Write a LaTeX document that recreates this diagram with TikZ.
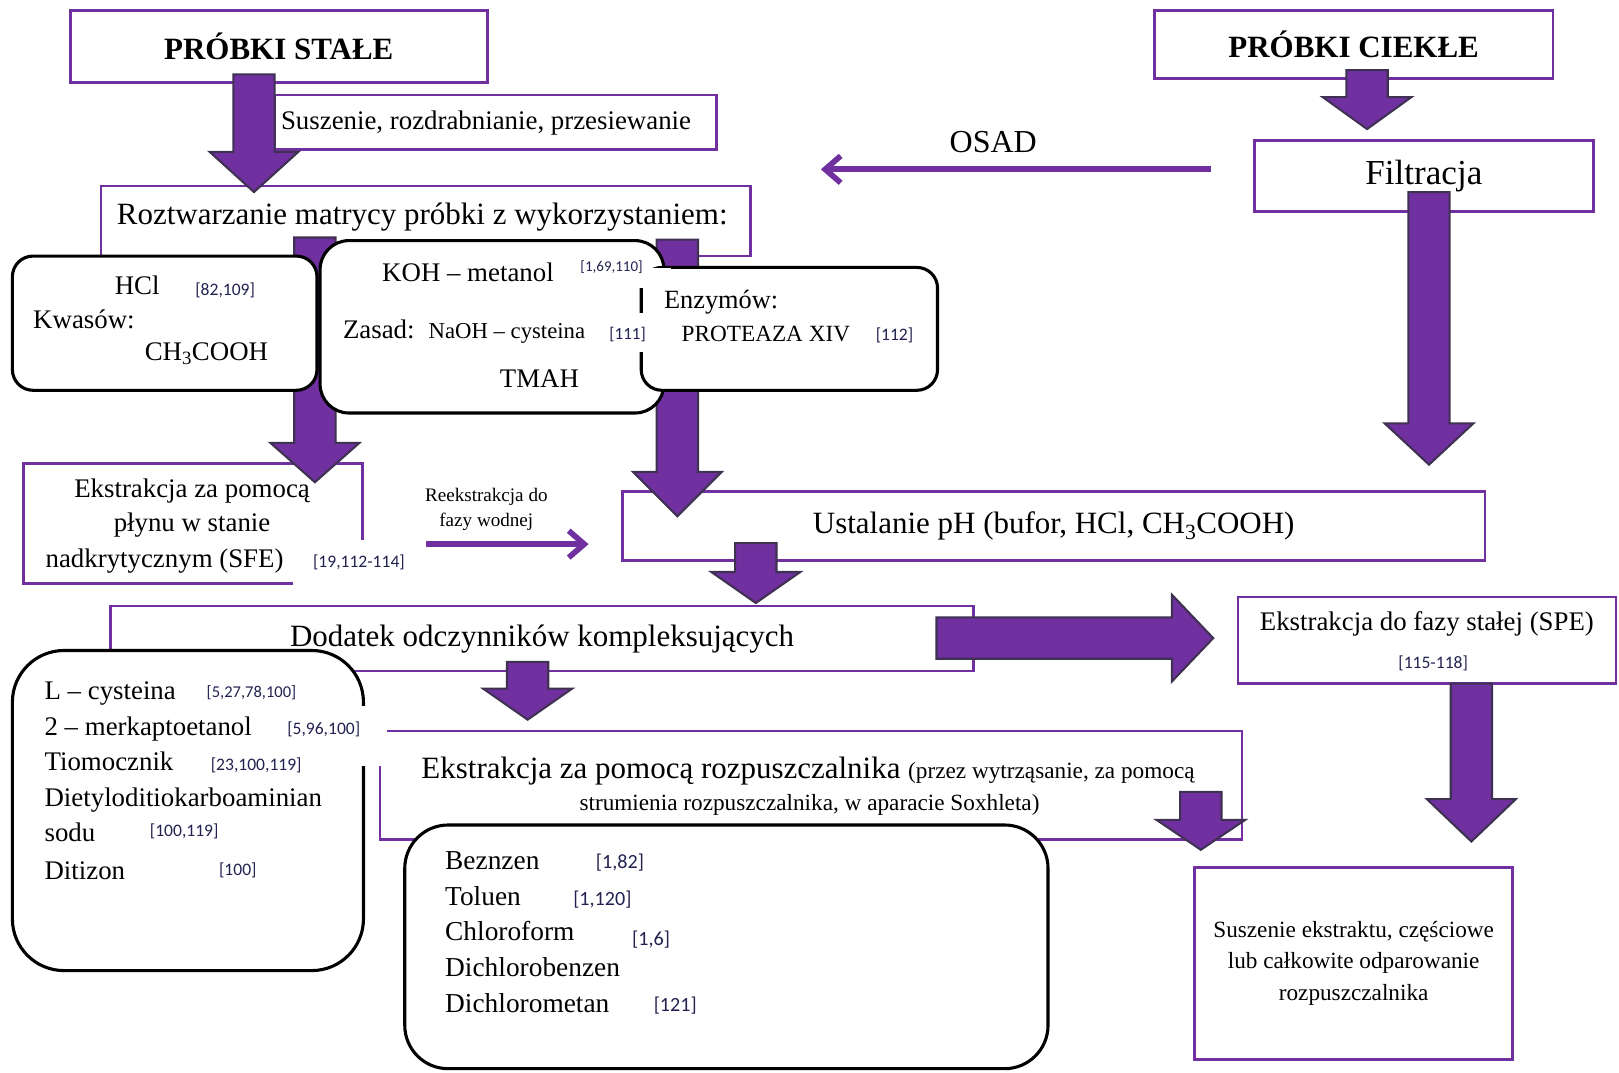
\documentclass[tikz,border=0pt]{standalone}
\usepackage{fontspec}
\setmainfont{Liberation Serif}
\newfontfamily\citef{Carlito}
\usetikzlibrary{calc,arrows.meta}
\definecolor{pur}{HTML}{7030A0}
\definecolor{arrdark}{HTML}{3F3151}
\definecolor{cit}{HTML}{222250}
\newcommand{\fsz}[1]{\fontsize{#1}{#1}\selectfont}
\newcommand{\blkdown}[3]{%
  \draw[blk] let \p1=(#1), \p2=(#2) in
    (\x1-20pt,\y1) -- (\x1+20pt,\y1) -- (\x1+20pt,\y2+#3pt) -- (\x1+43pt,\y2+#3pt)
    -- (\x2,\y2) -- (\x1-43pt,\y2+#3pt) -- (\x1-20pt,\y2+#3pt) -- cycle;}
\newcommand{\blkright}[3]{%
  \draw[blk] let \p1=(#1), \p2=(#2) in
    (\x1,\y1+20pt) -- (\x2-#3pt,\y1+20pt) -- (\x2-#3pt,\y1+42pt) -- (\x2,\y2)
    -- (\x2-#3pt,\y1-42pt) -- (\x2-#3pt,\y1-20pt) -- (\x1,\y1-20pt) -- cycle;}
\tikzset{
  pbox/.style={draw=pur, line width=2.5pt, fill=white, inner sep=0pt},
  pline/.style={draw=pur, line width=2.5pt},
  rbox/.style={draw=black, line width=3pt, fill=white, inner sep=0pt, rounded corners=#1},
  blk/.style={fill=pur, draw=arrdark, line width=2pt, line join=miter},
  larrow/.style={draw=pur, line width=5.5pt, -{Straight Barb[length=15pt,width=26pt]}},
  txt/.style={inner sep=0pt, anchor=base west},
  ctxt/.style={inner sep=0pt, anchor=base},
  cf/.style={inner sep=0pt, anchor=base west, font=\citef\fontsize{#1}{#1}\selectfont, text=cit},
}
\begin{document}
\begin{tikzpicture}[x=1pt,y=-1pt]
\useasboundingbox (0,0) rectangle (1568,1039);
\fill[white] (0,0) rectangle (1568,1039);

% ---- plain purple boxes ----
\node[pbox, minimum width=404, minimum height=70, font=\bfseries\fsz{30}] (stale) at (270,45) {PRÓBKI STAŁE};
\node[pbox, minimum width=428, minimum height=53] (susz) at (480,118.5) {};
\node[pbox, minimum width=629, minimum height=68] (roz) at (412.5,214) {};
\node[pbox, minimum width=386, minimum height=66, font=\bfseries\fsz{30}] (ciekle) at (1311,43) {PRÓBKI CIEKŁE};
\node[pbox, minimum width=328, minimum height=69, font=\fsz{34}] (filtr) at (1379,170.5) {Filtracja};
\node[inner sep=0pt, minimum width=328, minimum height=116] (sfe) at (187,507) {};
\draw[pline] (284,565) -- (23,565) -- (23,449) -- (351,449) -- (351,523);
\node[pbox, minimum width=835, minimum height=67, font=\fsz{30}] (ph) at (1020.5,509.5) {Ustalanie pH (bufor, HCl, CH\textsubscript{3}COOH)};
\node[pbox, minimum width=836, minimum height=63, font=\fsz{30}] (dod) at (525,618.5) {Dodatek odczynników kompleksujących};
\node[pbox, minimum width=366, minimum height=84] (spe) at (1382,620) {};
\node[pbox, minimum width=835, minimum height=105] (ekr) at (785.5,760.5) {};
\node[pbox, minimum width=308, minimum height=186, align=center, font={\fontsize{22.5}{30.5}\selectfont}] (susext) at (1311,933) {Suszenie ekstraktu, częściowe\\lub całkowite odparowanie\\rozpuszczalnika};

% ---- arrows behind the digestion boxes ----
\coordinate (a2s) at (305,230); \coordinate (a2e) at (305,467);
\coordinate (a3s) at (656,232); \coordinate (a3e) at (656,500);
\blkdown{a2s}{a2e}{38}
\blkdown{a3s}{a3e}{43}

% ---- rounded boxes (digestion) ----
\node[rbox=20, minimum width=295, minimum height=130] (hcl) at (159.5,313) {};
\node[rbox=28, minimum width=333, minimum height=167] (koh) at (476.5,316.5) {};
\node[rbox=20, minimum width=287, minimum height=119] (enz) at (764.5,318.5) {};
\fill[white] (613,260) rectangle (650,279);
\fill[white] (613,303) rectangle (629,341);

% ---- rounded boxes (reagents, solvents) ----
\node[rbox=50, minimum width=340, minimum height=310] (lcys) at (182,785) {};
\node[rbox=42, minimum width=623, minimum height=236] (benz) at (703.5,917) {};
\fill[white] (340,684) rectangle (375,742);

% ---- block arrows ----
\coordinate (a1s) at (246,72); \coordinate (a1e) at (246,186);
\coordinate (a4s) at (1324,68); \coordinate (a4e) at (1324,125);
\coordinate (a5s) at (1384,186); \coordinate (a5e) at (1384,450);
\coordinate (a6s) at (732,526); \coordinate (a6e) at (732,584);
\coordinate (a7s) at (907,618); \coordinate (a7e) at (1175,618);
\coordinate (a8s) at (511,641); \coordinate (a8e) at (511,697);
\coordinate (a9s) at (1163,767); \coordinate (a9e) at (1163,823);
\coordinate (a10s) at (1425,662); \coordinate (a10e) at (1425,815);
\blkdown{a1s}{a1e}{39}
\blkdown{a4s}{a4e}{31}
\blkdown{a5s}{a5e}{40}
\blkdown{a6s}{a6e}{30}
\blkright{a7s}{a7e}{40}
\blkdown{a8s}{a8e}{30}
\blkdown{a9s}{a9e}{29}
\blkdown{a10s}{a10e}{41}

% ---- line arrows ----
\coordinate (osS) at (1173,164); \coordinate (osE) at (795,164);
\draw[larrow] (osS) -- (osE);
\coordinate (reS) at (413,527); \coordinate (reE) at (570,527);
\draw[larrow] (reS) -- (reE);

% ---- texts ----
\node[txt, font=\fsz{26}] (tsusz) at (272,125) {Suszenie, rozdrabnianie, przesiewanie};
\node[txt, font=\fsz{30}] (troz) at (113,217) {Roztwarzanie matrycy próbki z wykorzystaniem:};
\node[ctxt, font=\fsz{31}] (tosad) at (962,148) {OSAD};

\node[txt, font=\fsz{26}] (thcl) at (111,285) {HCl};
\node[cf=17] (c1) at (189,286) {[82,109]};
\node[txt, font=\fsz{26}] (tkw) at (32,318) {Kwasów:};
\node[txt, font=\fsz{26}] (tch) at (140,349) {CH\textsubscript{3}COOH};

\node[txt, font=\fsz{26}] (tkoh) at (370,273) {KOH – metanol};
\node[cf=14.5] (c2) at (562,263) {[1,69,110]};
\node[txt, font=\fsz{26}] (tzas) at (332,328) {Zasad:};
\node[txt, font=\fsz{22}] (tnaoh) at (415,328) {NaOH – cysteina};
\node[cf=16.5] (c3) at (590,329) {[111]};
\node[txt, font=\fsz{26}] (ttmah) at (484,375) {TMAH};

\node[txt, font=\fsz{25.5}] (tenz) at (643,299) {Enzymów:};
\node[txt, font=\fsz{22.5}] (tprot) at (660,331) {PROTEAZA XIV};
\node[cf=17] (c4) at (848,330) {[112]};

\node[ctxt, font=\fsz{26}] (tsfe1) at (186,482) {Ekstrakcja za pomocą};
\node[ctxt, font=\fsz{26}] (tsfe2) at (186,515) {płynu w stanie};
\node[txt, font=\fsz{26}] (tsfe3) at (44,550) {nadkrytycznym (SFE)};
\node[cf=17] (c5) at (303,550) {[19,112-114]};

\node[ctxt, font=\fsz{18.5}] (tre1) at (471,486) {Reekstrakcja do};
\node[ctxt, font=\fsz{18.5}] (tre2) at (471,510) {fazy wodnej};

\node[txt, font=\fsz{26}] (tspe) at (1220,611) {Ekstrakcja do fazy stałej (SPE)};
\node[ctxt, font=\citef\fsz{17}, text=cit] (c6) at (1388,647) {[115-118]};

\node[txt] (tekr1) at (408,754) {\fsz{30}Ekstrakcja za pomocą rozpuszczalnika \fsz{22.5}(przez wytrząsanie, za pomocą};
\node[ctxt, font=\fsz{22.5}] (tekr2) at (784,785) {strumienia rozpuszczalnika, w aparacie Soxhleta)};

\node[txt, font=\fsz{26}] (l1) at (43,677) {L – cysteina};
\node[txt, font=\fsz{26}] (l2) at (43,712) {2 – merkaptoetanol};
\node[txt, font=\fsz{26}] (l3) at (43,746) {Tiomocznik};
\node[txt, font=\fsz{26}] (l4) at (43,781) {Dietyloditiokarboaminian};
\node[txt, font=\fsz{26}] (l5) at (43,815) {sodu};
\node[txt, font=\fsz{26}] (l6) at (43,852) {Ditizon};
\node[cf=16] (c7) at (200,676) {[5,27,78,100]};
\node[cf=17] (c8) at (278,711) {[5,96,100]};
\node[cf=17] (c9) at (204,746) {[23,100,119]};
\node[cf=17] (c10) at (145,810) {[100,119]};
\node[cf=17] (c11) at (212,848) {[100]};

\node[txt, font=\fsz{26.5}] (b1) at (431,842) {Beznzen};
\node[txt, font=\fsz{26.5}] (b2) at (431,877) {Toluen};
\node[txt, font=\fsz{26.5}] (b3) at (431,911) {Chloroform};
\node[txt, font=\fsz{26.5}] (b4) at (431,946) {Dichlorobenzen};
\node[txt, font=\fsz{26.5}] (b5) at (431,981) {Dichlorometan};
\node[cf=19.5] (c12) at (577,841) {[1,82]};
\node[cf=19.5] (c13) at (555,877) {[1,120]};
\node[cf=19.5] (c14) at (612,916) {[1,6]};
\node[cf=19.5] (c15) at (633,980) {[121]};
\end{tikzpicture}
\end{document}
